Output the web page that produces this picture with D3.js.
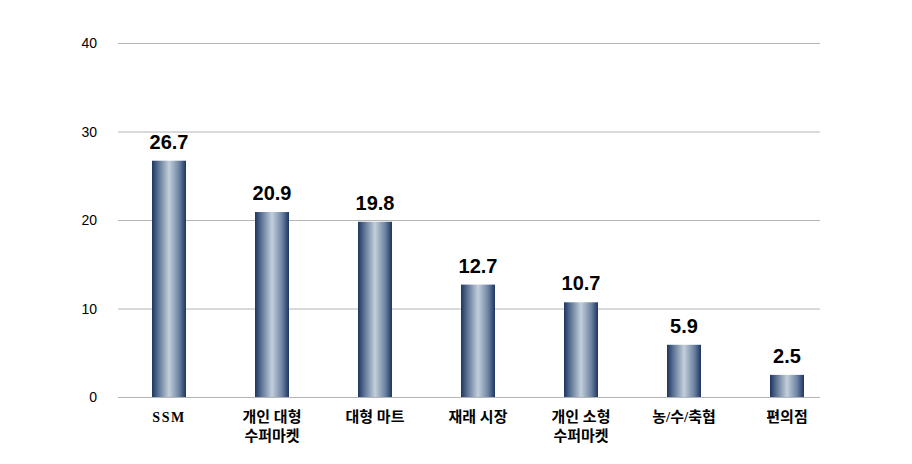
<!DOCTYPE html>
<html><head><meta charset="utf-8">
<script src="https://cdn.jsdelivr.net/npm/d3@7"></script>
<style>body{margin:0;background:#fff}</style>
</head><body>
<svg id="chart" width="912" height="464"></svg>
<script>
const categories = [["SSM"],["개인 대형","수퍼마켓"],["대형 마트"],["재래 시장"],["개인 소형","수퍼마켓"],["농/수/축협"],["편의점"]];
const values = [26.7, 20.9, 19.8, 12.7, 10.7, 5.9, 2.5];
const yTicks = [0, 10, 20, 30, 40];

const svg = d3.select("#chart");
const x = d3.scaleBand().domain(d3.range(values.length)).range([117.5, 838.5]).paddingInner(0.67).paddingOuter(0.335);
const y = d3.scaleLinear().domain([0, 40]).range([397, 43]);

const defs = svg.append("defs");
const g = defs.append("linearGradient").attr("id","bg").attr("x1","0").attr("x2","1").attr("y1","0").attr("y2","0");
[["0%","#1d3560"],["18%","#5a7193"],["50%","#c3cfdb"],["80%","#6d83a3"],["100%","#1d3560"]].forEach(s=>g.append("stop").attr("offset",s[0]).attr("stop-color",s[1]));

svg.append("g").selectAll("line").data(yTicks).join("line")
  .attr("x1",118).attr("x2",820).attr("y1",d=>y(d)+0.5).attr("y2",d=>y(d)+0.5)
  .attr("stroke","#b4b4b4").attr("stroke-width",1);

svg.append("g").selectAll("text").data(yTicks).join("text")
  .attr("x",97).attr("y",d=>y(d)+5).attr("text-anchor","end")
  .attr("font-family","Liberation Sans, Arial, sans-serif").attr("font-size",14).attr("fill","#000")
  .text(d=>d);

svg.append("g").selectAll("rect").data(values).join("rect")
  .attr("x",(d,i)=>x(i)).attr("width",x.bandwidth())
  .attr("y",d=>y(d)).attr("height",d=>y(0)-y(d)).attr("fill","url(#bg)");

svg.append("g").selectAll("text").data(values).join("text")
  .attr("x",(d,i)=>x(i)+x.bandwidth()/2).attr("y",d=>y(d)-12).attr("text-anchor","middle")
  .attr("font-family","Liberation Sans, Arial, sans-serif").attr("font-size",20).attr("font-weight","bold").attr("fill","#000")
  .text(d=>d.toFixed(1));

const cl = svg.append("g").selectAll("text").data(categories).join("text")
  .attr("x",(d,i)=>x(i)+x.bandwidth()/2).attr("y",422).attr("text-anchor","middle")
  .attr("font-family","Liberation Serif, Noto Sans CJK KR, serif").attr("font-size",(d,i)=>i===0?14:15).attr("font-weight","bold").attr("fill","#000")
  .attr("letter-spacing",(d,i)=>i===0?1.5:0);
cl.selectAll("tspan").data(d=>d).join("tspan")
  .attr("x",function(){return this.parentNode.getAttribute("x");})
  .attr("dy",(d,i)=>i===0?0:19).text(d=>d);
</script>
</body></html>
